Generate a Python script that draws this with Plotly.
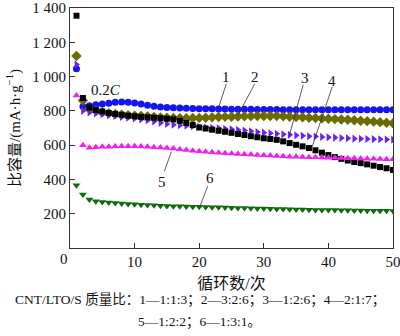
import plotly.graph_objects as go

cycles = list(range(1, 51))

s1 = [1045, 825, 830, 835, 840, 845, 850, 852, 850, 846, 840, 833, 827, 823, 820, 818, 816, 815, 814, 813,
      812, 812, 811, 811, 810, 810, 809, 809, 808, 808, 808, 808, 807, 807, 807, 807, 807, 807, 807, 807,
      806, 806, 806, 806, 806, 806, 806, 806, 806, 806]
s2 = [1120, 860, 810, 800, 792, 786, 782, 778, 775, 772, 770, 768, 765, 762, 760, 758, 757, 757, 758, 759,
      760, 762, 764, 765, 766, 767, 768, 769, 770, 770, 770, 770, 768, 766, 764, 762, 760, 758, 756, 754,
      752, 750, 748, 745, 742, 740, 737, 734, 731, 728]
s3 = [1070, 800, 790, 785, 780, 775, 770, 765, 760, 755, 750, 745, 738, 730, 724, 719, 716, 713, 710, 707,
      704, 701, 698, 695, 692, 689, 685, 681, 677, 673, 669, 666, 663, 660, 657, 655, 652, 650, 648, 646,
      644, 642, 640, 638, 637, 636, 635, 634, 633, 632]
s4 = [1355, 875, 820, 805, 796, 788, 782, 777, 772, 768, 765, 762, 760, 757, 754, 750, 742, 730, 717, 703,
      697, 690, 684, 678, 672, 665, 659, 652, 646, 640, 636, 631, 622, 612, 602, 593, 583, 570, 556, 542,
      530, 520, 510, 502, 495, 488, 480, 472, 465, 455]
s5 = [890, 600, 585, 588, 590, 591, 592, 593, 593, 593, 592, 590, 588, 586, 583, 580, 576, 572, 568, 564,
      561, 558, 555, 553, 551, 549, 547, 545, 543, 541, 539, 537, 535, 533, 532, 531, 530, 529, 528, 527,
      526, 525, 524, 523, 522, 521, 520, 519, 518, 517]
s6 = [366, 312, 283, 273, 269, 266, 263, 260, 257, 255, 253, 251, 249, 247, 245, 244, 243, 242, 241, 240,
      239, 238, 237, 236, 235, 234, 233, 232, 231, 230, 229, 228, 227, 226, 225, 224, 223, 222, 222, 221,
      221, 220, 220, 219, 219, 218, 218, 217, 217, 216]

series = [
    ("1", s1, "circle", "#1414f0", 7),
    ("2", s2, "diamond", "#6b6b00", 8),
    ("3", s3, "triangle-right", "#6a22f0", 7),
    ("4", s4, "square", "#000000", 6),
    ("5", s5, "triangle-up", "#f020f0", 7),
    ("6", s6, "triangle-down", "#0e6b0e", 7),
]

xticks = [10, 20, 30, 40, 50]
xtick_text = ["10", "20", "30", "40", "50"]
yticks = [200, 400, 600, 800, 1000, 1200, 1400]
ytick_text = ["200", "400", "600", "800", "1 000", "1 200", "1 400"]

FONT = "Liberation Serif, Times New Roman, Noto Sans CJK SC, serif"

fig = go.Figure()
for name, ys, sym, col, sz in series:
    fig.add_trace(go.Scatter(x=cycles, y=ys, mode="markers", name=name,
                             marker=dict(symbol=sym, color=col, size=sz, line=dict(width=0)),
                             showlegend=False))

# leader lines (label callouts)
leaders = [
    (24.2, 958, 23.0, 819),
    (28.6, 958, 25.9, 767),
    (36.1, 953, 34.0, 662),
    (40.6, 941, 37.4, 581),
    (15.7, 563, 14.6, 447),
    (21.3, 360, 20.2, 250),
]
for x0, y0, x1, y1 in leaders:
    fig.add_shape(type="line", xref="x", yref="y", x0=x0, y0=y0, x1=x1, y1=y1,
                  line=dict(color="#333333", width=0.8))

labels = [("1", 24.2, 995), ("2", 28.7, 995), ("3", 36.3, 990), ("4", 40.6, 972),
          ("5", 14.3, 383), ("6", 21.6, 407), ("0.2<i>C</i>", 5.5, 924)]
for t, x, y in labels:
    fig.add_annotation(x=x, y=y, xref="x", yref="y", text=t, showarrow=False,
                       font=dict(family=FONT, size=15, color="#111111"))

fig.add_annotation(x=-0.02, y=-0.005, xref="paper", yref="paper", text="0", showarrow=False,
                   xanchor="center", yanchor="top", font=dict(family=FONT, size=15, color="#111111"))

fig.add_annotation(x=0.402, y=-0.215, xref="paper", yref="paper", xanchor="center", yanchor="middle",
                   text="CNT/LTO/S 质量比：1—1:1:3；2—3:2:6；3—1:2:6；4—2:1:7；",
                   showarrow=False, font=dict(family=FONT, size=13.5, color="#111111"))
fig.add_annotation(x=0.402, y=-0.31, xref="paper", yref="paper", xanchor="center", yanchor="middle",
                   text="5—1:2:2；6—1:3:1。",
                   showarrow=False, font=dict(family=FONT, size=13.5, color="#111111"))

fig.update_layout(
    width=400, height=336,
    margin=dict(l=70, r=7, t=8, b=88),
    paper_bgcolor="white", plot_bgcolor="white",
    font=dict(family=FONT, size=15, color="#111111"),
    xaxis=dict(range=[0, 50], tickvals=xticks, ticktext=xtick_text, ticks="inside", ticklen=5,
               tickcolor="#333333", showline=True, linecolor="#333333", linewidth=1, mirror=True,
               showgrid=False, zeroline=False, ticklabeloverflow="allow", automargin=False,
               title=dict(text="循环数/次", font=dict(family=FONT, size=16), standoff=8)),
    yaxis=dict(range=[0, 1400], tickvals=yticks, ticktext=ytick_text, ticks="inside", ticklen=5,
               tickcolor="#333333", showline=True, linecolor="#333333", linewidth=1, mirror=True,
               showgrid=False, zeroline=False, ticklabeloverflow="allow", automargin=False,
               title=dict(text="比容量/(mA·h·g<sup>−1</sup>)", font=dict(family=FONT, size=15), standoff=8)),
)

fig.write_html("out.html")
